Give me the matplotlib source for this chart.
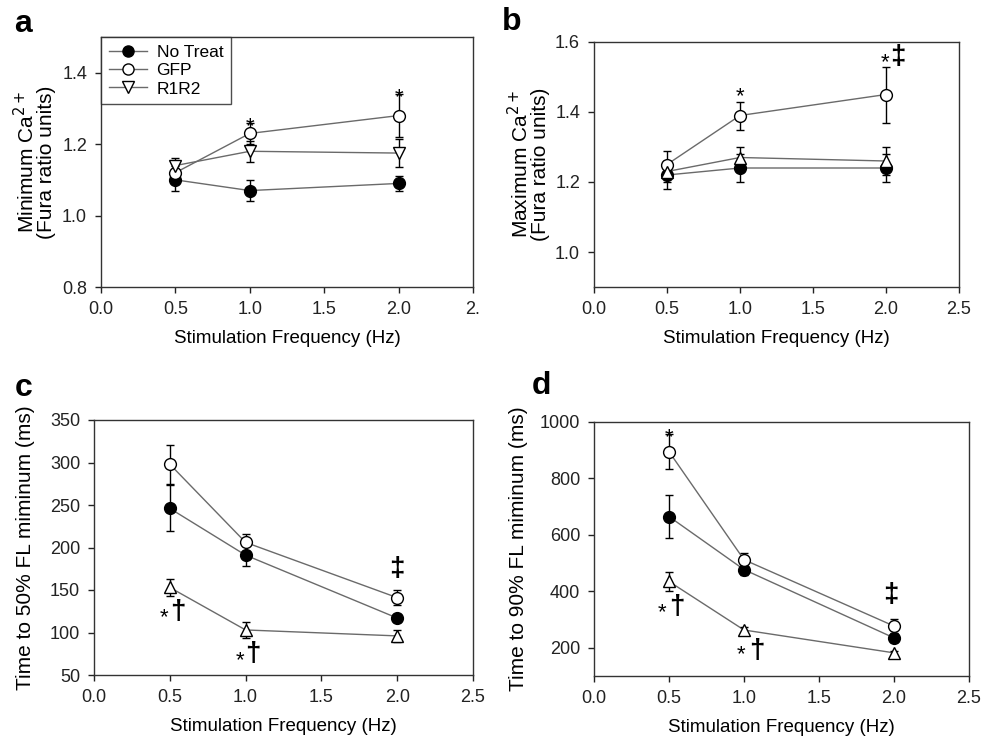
import matplotlib
matplotlib.use("Agg")
import matplotlib.pyplot as plt
from matplotlib.lines import Line2D

plt.rcParams['font.family'] = ['Liberation Sans', 'DejaVu Sans']

# ---------------- data ----------------
freq = [0.5, 1.0, 2.0]
groups = ["No Treat", "GFP", "R1R2"]

# a: minimum Ca2+
min_ca_nt = [1.10, 1.07, 1.09]
min_ca_nt_err = [0.03, 0.03, 0.02]
min_ca_gfp = [1.12, 1.23, 1.28]
min_ca_gfp_err = [0.02, 0.03, 0.06]
min_ca_r1r2 = [1.14, 1.18, 1.175]
min_ca_r1r2_err = [0.02, 0.03, 0.04]

# b: maximum Ca2+
max_ca_nt = [1.22, 1.24, 1.24]
max_ca_nt_err = [0.04, 0.04, 0.04]
max_ca_gfp = [1.25, 1.39, 1.45]
max_ca_gfp_err = [0.04, 0.04, 0.08]
max_ca_r1r2 = [1.23, 1.27, 1.26]
max_ca_r1r2_err = [0.03, 0.03, 0.04]

# c: time to 50% FL minimum
t50_nt = [246, 191, 117]
t50_nt_err = [27, 13, 5]
t50_gfp = [298, 206, 141]
t50_gfp_err = [23, 10, 9]
t50_r1r2 = [153, 103, 96]
t50_r1r2_err = [10, 9, 7]

# d: time to 90% FL minimum
t90_nt = [665, 477, 235]
t90_nt_err = [75, 20, 15]
t90_gfp = [895, 512, 277]
t90_gfp_err = [62, 24, 25]
t90_r1r2 = [435, 263, 182]
t90_r1r2_err = [33, 12, 8]

xticks = [0.0, 0.5, 1.0, 1.5, 2.0, 2.5]
xtick_labels = ["0.0", "0.5", "1.0", "1.5", "2.0", "2.5"]
xtick_labels_a = ["0.0", "0.5", "1.0", "1.5", "2.0", "2."]

W, H = 982, 739
fig = plt.figure(figsize=(W / 100, H / 100), dpi=100)


def px_axes(left, top, right, bottom):
    return fig.add_axes([left / W, 1 - bottom / H, (right - left) / W, (bottom - top) / H])


LINE_C = "#6a6a6a"
TICK_FS = 13
XLAB_FS = 13.5
YLAB_FS = 15


def draw_series(ax, y, err, marker, filled):
    ax.plot(freq, y, color=LINE_C, lw=1.0, zorder=2)
    ax.errorbar(freq, y, yerr=err, fmt="none", ecolor="black", elinewidth=1.0,
                capsize=3, capthick=1.0, zorder=3)
    ax.plot(freq, y, ls="none", marker=marker, ms=8.5 if marker == "o" else 9,
            mfc="black" if filled else "white", mec="black", mew=1.0, zorder=4)


def style(ax, ylim, yticks, ylabel, xlabels, label_x):
    ax.set_xlim(0, 2.5)
    ax.set_ylim(*ylim)
    ax.set_xticks(xticks)
    ax.set_xticklabels(xlabels)
    ax.set_yticks(yticks)
    ax.tick_params(direction="out", length=4, width=1, pad=6, labelsize=TICK_FS,
                   top=False, right=False, colors="#222222")
    for s in ax.spines.values():
        s.set_color("#333333")
        s.set_linewidth(1.0)
    ax.set_xlabel("Stimulation Frequency (Hz)", fontsize=XLAB_FS, labelpad=9)
    ax.set_ylabel(ylabel, fontsize=YLAB_FS, linespacing=0.95)
    ax.yaxis.set_label_coords(label_x, 0.5)


def star(ax, x, y, size=16):
    ax.text(x, y, "*", ha="center", va="center", fontsize=size)


def dagger(ax, x, y, ch, size=20):
    ax.text(x, y, ch, ha="center", va="center", fontsize=size, fontweight="bold")


# ---------------- panel a ----------------
ax_a = px_axes(101, 37, 473, 287)
draw_series(ax_a, min_ca_nt, min_ca_nt_err, "o", True)
draw_series(ax_a, min_ca_gfp, min_ca_gfp_err, "o", False)
draw_series(ax_a, min_ca_r1r2, min_ca_r1r2_err, "v", False)
style(ax_a, (0.8, 1.5), [0.8, 1.0, 1.2, 1.4], "Minimum Ca$^{2+}$\n(Fura ratio units)",
      xtick_labels_a, -0.12)
star(ax_a, 1.0, 1.25)
star(ax_a, 2.0, 1.33)

handles = [
    Line2D([], [], color=LINE_C, lw=1, marker="o", ms=8, mfc="black", mec="black"),
    Line2D([], [], color=LINE_C, lw=1, marker="o", ms=8, mfc="white", mec="black"),
    Line2D([], [], color=LINE_C, lw=1, marker="v", ms=8.5, mfc="white", mec="black"),
]
leg = ax_a.legend(handles, groups, loc="upper left", fontsize=12.5, frameon=True, fancybox=False,
                  borderaxespad=0, handlelength=2.2, handletextpad=0.55, labelspacing=0.18,
                  borderpad=0.45)
leg.get_frame().set_edgecolor("#222222")
leg.get_frame().set_linewidth(1.0)

# ---------------- panel b ----------------
ax_b = px_axes(594, 42, 959, 287)
draw_series(ax_b, max_ca_nt, max_ca_nt_err, "o", True)
draw_series(ax_b, max_ca_gfp, max_ca_gfp_err, "o", False)
draw_series(ax_b, max_ca_r1r2, max_ca_r1r2_err, "^", False)
style(ax_b, (0.9, 1.6), [1.0, 1.2, 1.4, 1.6], "Maximum Ca$^{2+}$\n(Fura ratio units)",
      xtick_labels, -0.12)
star(ax_b, 1.0, 1.445)
star(ax_b, 1.99, 1.54)
dagger(ax_b, 2.08, 1.557, "\u2021")

# ---------------- panel c ----------------
ax_c = px_axes(94, 420, 473, 675)
draw_series(ax_c, t50_nt, t50_nt_err, "o", True)
draw_series(ax_c, t50_gfp, t50_gfp_err, "o", False)
draw_series(ax_c, t50_r1r2, t50_r1r2_err, "^", False)
style(ax_c, (50, 350), [50, 100, 150, 200, 250, 300, 350], "Time to 50% FL miminum (ms)",
      xtick_labels, -0.155)
dagger(ax_c, 2.0, 175, "\u2021")
star(ax_c, 0.46, 117)
dagger(ax_c, 0.555, 124, "\u2020")
star(ax_c, 0.965, 67)
dagger(ax_c, 1.05, 75, "\u2020")

# ---------------- panel d ----------------
ax_d = px_axes(594, 422, 969, 676)
draw_series(ax_d, t90_nt, t90_nt_err, "o", True)
draw_series(ax_d, t90_gfp, t90_gfp_err, "o", False)
draw_series(ax_d, t90_r1r2, t90_r1r2_err, "^", False)
style(ax_d, (100, 1000), [200, 400, 600, 800, 1000], "Time to 90% FL miminum (ms)",
      xtick_labels, -0.175)
star(ax_d, 0.5, 945)
dagger(ax_d, 1.98, 387, "\u2021")
star(ax_d, 0.455, 325)
dagger(ax_d, 0.555, 345, "\u2020")
star(ax_d, 0.98, 175)
dagger(ax_d, 1.087, 189, "\u2020")

# panel letters
for lab, x, y in [("a", 14, 9), ("b", 502, 7), ("c", 15, 373), ("d", 532, 371)]:
    fig.text(x / W, 1 - y / H, lab, fontsize=23, fontweight="bold", ha="left", va="top")

fig.savefig("out.png", dpi=100)
